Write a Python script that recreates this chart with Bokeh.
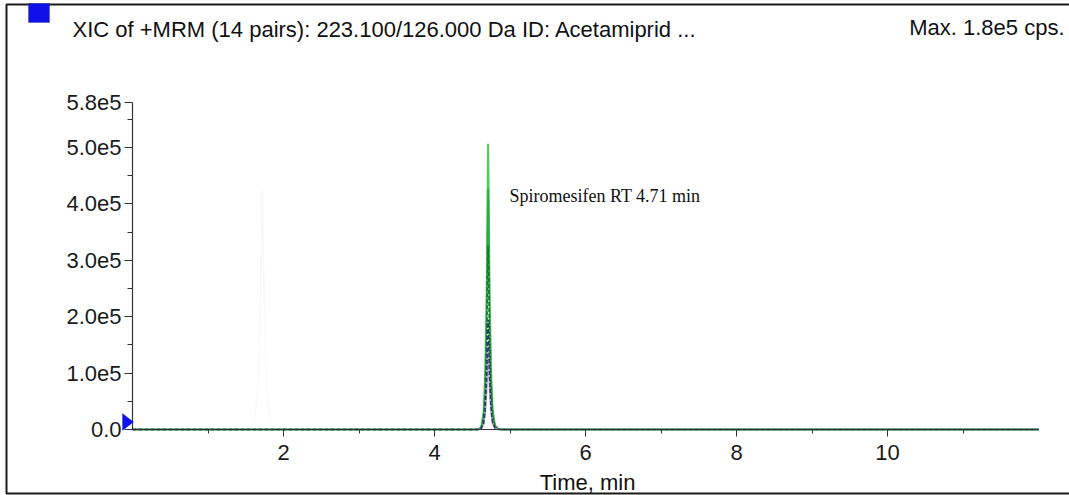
from bokeh.plotting import figure
from bokeh.models import (Range1d, FixedTicker, CustomJSTickFormatter, Label,
                          BoxAnnotation, PolyAnnotation, LinearAxis)
from bokeh.embed import file_html
from bokeh.resources import INLINE

# ---------------- data ----------------
time_min = [0.0, 4.50, 4.58, 4.62, 4.65, 4.67, 4.69, 4.70, 4.71, 4.72,
            4.73, 4.75, 4.77, 4.80, 4.84, 4.90, 12.0]
trace_light_green = [0, 0, 500, 5000, 30000, 90000, 230000, 380000, 507000, 400000,
                     240000, 100000, 35000, 8000, 1000, 0, 0]
trace_mid_green = [0, 0, 400, 4000, 24000, 75000, 195000, 320000, 427000, 335000,
                   200000, 84000, 29000, 6500, 800, 0, 0]
trace_dark_green = [0, 0, 300, 3000, 18000, 56000, 148000, 245000, 326000, 255000,
                    152000, 64000, 22000, 5000, 600, 0, 0]
trace_navy = [0, 0, 200, 1800, 11000, 34000, 88000, 146000, 195000, 152000,
              91000, 38000, 13000, 3000, 400, 0, 0]
trace_lavender = [0, 0, 150, 1400, 8500, 26000, 68000, 112000, 150000, 117000,
                  70000, 29000, 10000, 2300, 300, 0, 0]
faint_time = [0.0, 1.55, 1.62, 1.67, 1.70, 1.72, 1.74, 1.77, 1.82, 1.90, 12.0]
faint_trace = [0, 0, 20000, 90000, 250000, 430000, 260000, 80000, 15000, 0, 0]

x_ticks = [2, 4, 6, 8, 10]
x_minor = [1, 3, 5, 7, 9, 11]
y_ticks = [0, 100000, 200000, 300000, 400000, 500000, 580000]
y_minor = [50000, 150000, 250000, 350000, 450000, 550000]

title_text = "XIC of +MRM (14 pairs): 223.100/126.000 Da ID: Acetamiprid ..."
max_text = "Max. 1.8e5 cps."
peak_text = "Spiromesifen RT 4.71 min"
x_label = "Time, min"

# ---------------- geometry ----------------
W, H = 1069, 495
L, R, T, B = 132, 1038, 102, 429        # pixel box of the plotted data area
X0, X1, Y0, Y1 = 0.0, 12.0, 0.0, 580000.0


def dx(px):
    return X0 + (px - L) / (R - L) * (X1 - X0)


def dy(py):
    return Y1 - (py - T) / (B - T) * (Y1 - Y0)


p = figure(width=W, height=H, output_backend="svg", toolbar_location=None,
           x_range=Range1d(dx(0), dx(W)), y_range=Range1d(dy(H), dy(0)),
           x_axis_location=None, y_axis_location=None,
           min_border=0, title=None)
p.outline_line_color = None
p.xgrid.visible = False
p.ygrid.visible = False
p.background_fill_color = "white"
p.border_fill_color = "white"

FONT = "Liberation Sans"
axis_col = "#333333"

xaxis = LinearAxis(fixed_location=0, bounds=(X0, X1),
                   ticker=FixedTicker(ticks=x_ticks, minor_ticks=x_minor))
yaxis = LinearAxis(fixed_location=0, bounds=(Y0, Y1),
                   ticker=FixedTicker(ticks=y_ticks, minor_ticks=y_minor),
                   formatter=CustomJSTickFormatter(
                       code="return tick == 0 ? '0.0' : (tick/1e5).toFixed(1) + 'e5';"))
for ax in (xaxis, yaxis):
    ax.level = "annotation"
    ax.axis_line_color = axis_col
    ax.axis_line_width = 1.2
    ax.major_tick_line_color = axis_col
    ax.minor_tick_line_color = axis_col
    ax.major_label_text_font = FONT
    ax.major_label_text_font_size = "22px"
    ax.major_label_text_color = "#1a1a1a"
    ax.major_tick_in = 0
    ax.minor_tick_in = 0

xaxis.major_tick_out = 7
xaxis.minor_tick_out = 4
xaxis.major_label_standoff = 8
yaxis.major_tick_out = 8
yaxis.minor_tick_out = 5
yaxis.major_label_standoff = 3
p.add_layout(xaxis, "below")
p.add_layout(yaxis, "left")

# ---------------- frame lines of the picture (open on the right) ----------------
p.line([dx(W + 50), dx(6), dx(6), dx(W + 50)], [dy(4), dy(4), dy(493), dy(493)],
       line_color="#1a1a1a", line_width=2)

# ---------------- traces ----------------
p.line(faint_time, faint_trace, line_color="#f8f8f8", line_width=1.5)
p.line(time_min, trace_light_green, line_color="#4fcf5a", line_width=2)
p.line(time_min, trace_mid_green, line_color="#2fa84a", line_width=1.6)
p.line(time_min, trace_dark_green, line_color="#1f6e35", line_width=1.6,
       line_dash="4 2")
p.line(time_min, trace_lavender, line_color="#a79cc0", line_width=1.6)
p.line(time_min, trace_navy, line_color="#283a68", line_width=1.6,
       line_dash="4 2")

# ---------------- annotations ----------------
p.add_layout(BoxAnnotation(left=dx(28), right=dx(49), top=dy(3), bottom=dy(22),
                           fill_color="#1010e8", fill_alpha=1,
                           line_color="#202060", line_width=1))
p.add_layout(PolyAnnotation(xs=[dx(122), dx(133), dx(122)],
                            ys=[dy(413), dy(421.5), dy(430)],
                            fill_color="#1010e8", fill_alpha=1,
                            line_color="#1010e8", line_width=1))

p.add_layout(Label(x=dx(72), y=dy(29), text=title_text, text_font=FONT,
                   text_font_size="22px", text_color="#111111",
                   text_align="left", text_baseline="alphabetic"))
p.add_layout(Label(x=dx(1064), y=dy(27), text=max_text, text_font=FONT,
                   text_font_size="22px", text_color="#111111",
                   text_align="right", text_baseline="alphabetic"))
p.add_layout(Label(x=dx(509), y=dy(195), text=peak_text,
                   text_font="Liberation Serif", text_font_size="18px",
                   text_color="#111111", text_align="left",
                   text_baseline="middle"))
p.add_layout(Label(x=dx(587), y=dy(482), text=x_label, text_font=FONT,
                   text_font_size="22px", text_color="#111111",
                   text_align="center", text_baseline="middle"))

open("out.html", "w").write(file_html(p, INLINE))
